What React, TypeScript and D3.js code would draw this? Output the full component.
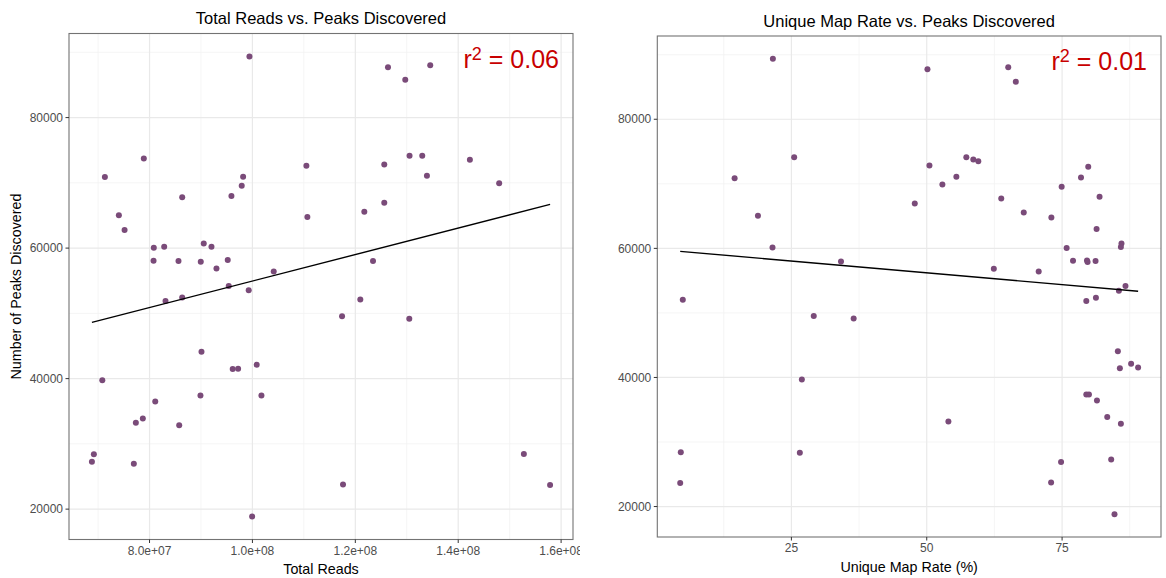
import React from "react";
import * as d3 from "d3";

// ---- Data ----
// Left panel: total reads vs peaks discovered
const totalReads: number[] = [
  99.42e6, 71.32e6, 78.89e6, 74.04e6, 75.15e6, 86.35e6, 95.92e6, 97.92e6, 98.19e6, 110.49e6,
  110.68e6, 80.83e6, 82.85e6, 90.54e6, 92.04e6, 80.78e6, 85.63e6, 89.96e6, 95.2e6, 93.01e6,
  104.14e6, 126.35e6, 134.56e6, 129.71e6, 125.63e6, 130.54e6, 133.01e6, 133.92e6, 142.27e6, 147.96e6,
  121.75e6, 125.63e6, 123.44e6, 95.4e6, 99.28e6, 83.11e6, 86.35e6, 90.1e6, 96.17e6, 97.22e6,
  100.83e6, 101.75e6, 89.9e6, 70.82e6, 81.11e6, 77.34e6, 78.7e6, 85.77e6, 69.18e6, 68.8e6,
  76.95e6, 99.94e6, 120.97e6, 117.42e6, 130.49e6, 152.76e6, 157.86e6, 117.61e6,
];
const peaksByReads: number[] = [
  89360, 70885, 73740, 65040, 62790, 67790, 67985, 69560, 70930, 72610,
  64780, 60046, 60200, 60700, 60200, 58060, 58015, 57910, 58170, 56885,
  56430, 87725, 88030, 85800, 72825, 74140, 74140, 71085, 73530, 69924,
  65588, 66962, 58015, 54198, 53527, 51908, 52412, 44122, 41466, 41527,
  42137, 37405, 37405, 39740, 36489, 33221, 33893, 32870, 28397, 27267,
  26962, 18870, 52107, 49557, 49160, 28443, 23710, 23756,
];

// Right panel: unique map rate (%) vs peaks discovered
const uniqueMapRate: number[] = [
  21.58, 25.51, 14.51, 18.82, 21.51, 34.16, 50.13, 65.05, 66.45, 50.5,
  57.31, 58.6, 59.52, 55.47, 52.89, 47.79, 63.76, 67.92, 73.02, 74.92,
  78.49, 79.83, 81.92, 81.37, 75.84, 85.97, 85.86, 77.02, 79.6, 79.71,
  81.18, 62.39, 70.68, 4.94, 29.13, 36.5, 26.93, 4.57, 26.56, 4.46,
  86.71, 85.49, 81.25, 79.47, 85.3, 87.75, 89.04, 85.67, 79.47, 79.96,
  81.44, 83.34, 85.86, 54.0, 74.81, 84.07, 72.97, 84.68,
];
const peaksByRate: number[] = [
  89371, 74124, 70877, 65047, 60145, 57980, 87732, 88041, 85814, 72825,
  74124, 73753, 73505, 71078, 69887, 66949, 67722, 65557, 64784, 69531,
  70970, 72624, 67985, 62990, 60053, 60764, 60207, 58089, 58135, 57888,
  58042, 56852, 56434, 52058, 49538, 49120, 39688, 28399, 28353, 23652,
  54177, 53450, 52368, 51857, 44063, 42115, 41543, 41435, 37368, 37368,
  36440, 33858, 32838, 33194, 26900, 27271, 23714, 18812,
];

const yTicks: number[] = [20000, 40000, 60000, 80000];
const yMinorTicks: number[] = [30000, 50000, 70000, 90000];
const readsTicks: number[] = [8e7, 1e8, 1.2e8, 1.4e8, 1.6e8];
const readsMinorTicks: number[] = [7e7, 9e7, 1.1e8, 1.3e8, 1.5e8];
const rateTicks: number[] = [25, 50, 75];
const rateMinorTicks: number[] = [12.5, 37.5, 62.5, 87.5];

const titles = ["Total Reads vs. Peaks Discovered", "Unique Map Rate vs. Peaks Discovered"];
const xTitles = ["Total Reads", "Unique Map Rate (%)"];
const yTitle = "Number of Peaks Discovered";
const r2Values = ["0.06", "0.01"];

const FONT = "'Liberation Sans', Arial, Helvetica, sans-serif";
const POINT_COLOR = "#7a4b79";
const R2_COLOR = "#c80000";

function sciFormat(v: number): string {
  const [m, e] = v.toExponential(1).split("e");
  const sign = e[0] === "-" ? "-" : "+";
  const digits = e.replace(/[+-]/, "").padStart(2, "0");
  return `${m}e${sign}${digits}`;
}

function expand(values: number[]): [number, number] {
  const [lo, hi] = d3.extent(values) as [number, number];
  const pad = (hi - lo) * 0.05;
  return [lo - pad, hi + pad];
}

function linearFit(xs: number[], ys: number[]) {
  const mx = d3.mean(xs)!;
  const my = d3.mean(ys)!;
  let sxy = 0;
  let sxx = 0;
  xs.forEach((x, i) => {
    sxy += (x - mx) * (ys[i] - my);
    sxx += (x - mx) * (x - mx);
  });
  const slope = sxy / sxx;
  return { slope, intercept: my - slope * mx };
}

type PanelProps = {
  xs: number[];
  ys: number[];
  box: { left: number; top: number; right: number; bottom: number };
  xTicks: number[];
  xMinor: number[];
  xFormat: (v: number) => string;
  title: string;
  xTitle: string;
  r2: string;
  showYTitle: boolean;
  clipRight?: number;
  id: string;
};

function Panel({ xs, ys, box, xTicks, xMinor, xFormat, title, xTitle, r2, showYTitle, clipRight, id }: PanelProps) {
  const x = d3.scaleLinear().domain(expand(xs)).range([box.left, box.right]);
  const y = d3.scaleLinear().domain(expand(ys)).range([box.bottom, box.top]);
  const fit = linearFit(xs, ys);
  const [xmin, xmax] = d3.extent(xs) as [number, number];
  const line = d3.line<number>()
    .x((d) => x(d))
    .y((d) => y(fit.intercept + fit.slope * d));
  const inX = (v: number) => v >= x.domain()[0] && v <= x.domain()[1];
  const inY = (v: number) => v >= y.domain()[0] && v <= y.domain()[1];
  const cx = (box.left + box.right) / 2;
  const cy = (box.top + box.bottom) / 2;

  return (
    <g clipPath={clipRight ? `url(#clip-${id})` : undefined}>
      {clipRight ? (
        <defs>
          <clipPath id={`clip-${id}`}>
            <rect x={0} y={0} width={clipRight} height={578} />
          </clipPath>
        </defs>
      ) : null}
      {/* minor grid */}
      {yMinorTicks.filter(inY).map((t) => (
        <line key={`ym${t}`} x1={box.left} x2={box.right} y1={y(t)} y2={y(t)} stroke="#f2f2f2" strokeWidth={0.8} />
      ))}
      {xMinor.filter(inX).map((t) => (
        <line key={`xm${t}`} x1={x(t)} x2={x(t)} y1={box.top} y2={box.bottom} stroke="#f2f2f2" strokeWidth={0.8} />
      ))}
      {/* major grid */}
      {yTicks.filter(inY).map((t) => (
        <line key={`yM${t}`} x1={box.left} x2={box.right} y1={y(t)} y2={y(t)} stroke="#e9e9e9" strokeWidth={1.2} />
      ))}
      {xTicks.filter(inX).map((t) => (
        <line key={`xM${t}`} x1={x(t)} x2={x(t)} y1={box.top} y2={box.bottom} stroke="#e9e9e9" strokeWidth={1.2} />
      ))}
      {/* points */}
      {xs.map((v, i) => (
        <circle key={i} cx={x(v)} cy={y(ys[i])} r={3} fill={POINT_COLOR} />
      ))}
      {/* regression line */}
      <path d={line([xmin, xmax]) || ""} fill="none" stroke="#000" strokeWidth={1.4} />
      {/* r2 annotation */}
      <text x={box.right - 14} y={box.top + 34} textAnchor="end" fill={R2_COLOR} fontFamily={FONT} fontSize={25}>
        r<tspan fontSize={18} dy={-8}>2</tspan>
        <tspan dy={8}>{` = ${r2}`}</tspan>
      </text>
      {/* border */}
      <rect x={box.left} y={box.top} width={box.right - box.left} height={box.bottom - box.top} fill="none" stroke="#737373" strokeWidth={1.1} />
      {/* y axis ticks */}
      {yTicks.filter(inY).map((t) => (
        <g key={`yt${t}`}>
          <line x1={box.left - 3.5} x2={box.left} y1={y(t)} y2={y(t)} stroke="#333" strokeWidth={1} />
          <text x={box.left - 6} y={y(t)} dy="0.35em" textAnchor="end" fontFamily={FONT} fontSize={12} fill="#4d4d4d">
            {String(t)}
          </text>
        </g>
      ))}
      {/* x axis ticks */}
      {xTicks.filter(inX).map((t) => (
        <g key={`xt${t}`}>
          <line x1={x(t)} x2={x(t)} y1={box.bottom} y2={box.bottom + 3.5} stroke="#333" strokeWidth={1} />
          <text x={x(t)} y={box.bottom + 15} textAnchor="middle" fontFamily={FONT} fontSize={12} fill="#4d4d4d">
            {xFormat(t)}
          </text>
        </g>
      ))}
      {/* titles */}
      <text x={cx} y={box.top - 9.5} textAnchor="middle" fontFamily={FONT} fontSize={16.5} fill="#000">
        {title}
      </text>
      <text x={cx} y={box.bottom + 34.5} textAnchor="middle" fontFamily={FONT} fontSize={14.3} fill="#000">
        {xTitle}
      </text>
      {showYTitle ? (
        <text transform={`translate(21,${cy}) rotate(-90)`} textAnchor="middle" fontFamily={FONT} fontSize={14.3} fill="#000">
          {yTitle}
        </text>
      ) : null}
    </g>
  );
}

export default function App() {
  return (
    <svg width={1166} height={578} style={{ position: "absolute", left: 0, top: 0, background: "#fff" }}>
      <rect x={0} y={0} width={1166} height={578} fill="#fff" />
      <Panel
        id="left"
        xs={totalReads}
        ys={peaksByReads}
        box={{ left: 69, top: 33.5, right: 573, bottom: 539.5 }}
        xTicks={readsTicks}
        xMinor={readsMinorTicks}
        xFormat={sciFormat}
        title={titles[0]}
        xTitle={xTitles[0]}
        r2={r2Values[0]}
        showYTitle={true}
        clipRight={580}
      />
      <Panel
        id="right"
        xs={uniqueMapRate}
        ys={peaksByRate}
        box={{ left: 657.3, top: 36, right: 1161, bottom: 537 }}
        xTicks={rateTicks}
        xMinor={rateMinorTicks}
        xFormat={(v) => String(v)}
        title={titles[1]}
        xTitle={xTitles[1]}
        r2={r2Values[1]}
        showYTitle={false}
      />
    </svg>
  );
}
